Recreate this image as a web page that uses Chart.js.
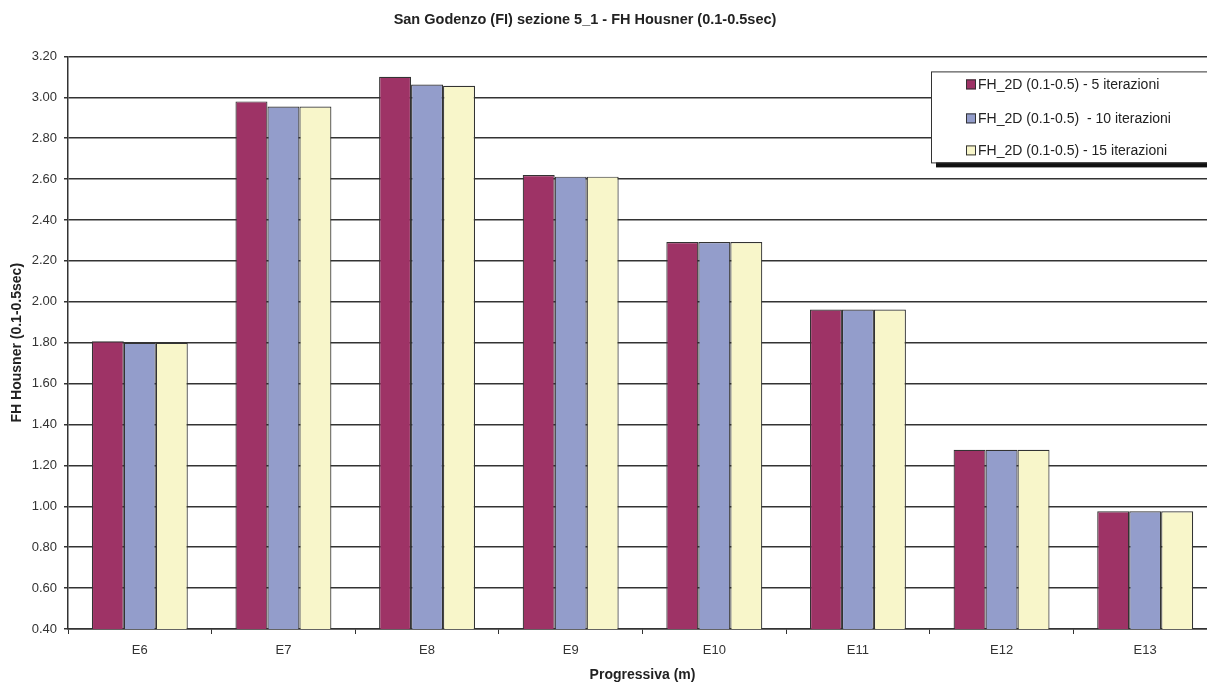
<!DOCTYPE html>
<html>
<head>
<meta charset="utf-8">
<script src="https://cdn.jsdelivr.net/npm/chart.js@4.4.1/dist/chart.umd.min.js"></script>
<style>
  html, body { margin: 0; padding: 0; background: #fff; overflow: hidden; }
  #wrap { width: 1207px; height: 684px; overflow: hidden; }
</style>
</head>
<body>
<div id="wrap"><canvas id="chart" width="1217" height="684"></canvas></div>
<script>
// data
const categories = ['E6', 'E7', 'E8', 'E9', 'E10', 'E11', 'E12', 'E13'];
const iter5 = [1.807, 2.980, 3.100, 2.620, 2.292, 1.962, 1.276, 0.976];
const iter10 = [1.800, 2.955, 3.062, 2.612, 2.292, 1.962, 1.276, 0.976];
const iter15 = [1.800, 2.955, 3.056, 2.612, 2.292, 1.962, 1.276, 0.976];
const seriesLabels = [
    'FH_2D (0.1-0.5) - 5 iterazioni',
    'FH_2D (0.1-0.5)  - 10 iterazioni',
    'FH_2D (0.1-0.5) - 15 iterazioni'
];
const yMin = 0.4, yMax = 3.2, yStep = 0.2;

const colors = ['#9E3366', '#939DCB', '#F8F6CA'];
const FONT = 'Arial, "Liberation Sans", sans-serif';

// the source title sits a bit left of the canvas centre
const titleShift = {
    id: 'titleShift',
    afterLayout(chart) {
        const t = chart.titleBlock;
        if (t) t.right = t.left + 1160;
    }
};

// legend box drawn inside the plot area, Excel style (the source crop cuts it on the right)
const boxLegend = {
    id: 'boxLegend',
    afterDraw(chart) {
        const ctx = chart.ctx;
        const area = chart.chartArea;
        const w = 284, h = 91;
        const x = area.right - 286;
        const y = area.top + 15;
        const rows = [13, 47, 79];
        ctx.save();
        ctx.fillStyle = '#111';
        ctx.fillRect(x + 5, y + 5, w, h);
        ctx.fillStyle = '#fff';
        ctx.fillRect(x, y, w, h);
        ctx.strokeStyle = '#333';
        ctx.lineWidth = 1;
        ctx.strokeRect(x + 0.5, y + 0.5, w, h);
        ctx.font = '14px ' + FONT;
        ctx.textBaseline = 'middle';
        chart.data.datasets.forEach((ds, i) => {
            const ry = y + rows[i];
            ctx.fillStyle = ds.backgroundColor;
            ctx.fillRect(x + 35, ry - 5, 10, 10);
            ctx.strokeStyle = '#333';
            ctx.strokeRect(x + 35.5, ry - 4.5, 9, 9);
            ctx.fillStyle = '#222';
            ctx.fillText(ds.label, x + 47, ry + 1);
        });
        ctx.restore();
    }
};

const datasets = [iter5, iter10, iter15].map((vals, i) => ({
    label: seriesLabels[i],
    data: vals,
    backgroundColor: colors[i],
    borderColor: '#333',
    borderWidth: 1.2,
    borderSkipped: 'bottom',
    categoryPercentage: 0.668,
    barPercentage: 1.0
}));

new Chart(document.getElementById('chart'), {
    type: 'bar',
    data: { labels: categories, datasets: datasets },
    plugins: [titleShift, boxLegend],
    options: {
        responsive: false,
        animation: false,
        layout: { padding: { top: 4, right: 0, left: 5, bottom: 0 } },
        plugins: {
            legend: { display: false },
            tooltip: { enabled: false },
            title: {
                display: true,
                text: 'San Godenzo (FI) sezione 5_1 - FH Housner (0.1-0.5sec)',
                color: '#222',
                font: { family: FONT, size: 14.5, weight: 'bold' },
                padding: { top: 7, bottom: 28 }
            }
        },
        scales: {
            x: {
                afterFit: s => { s.height = 55; },
                grid: {
                    display: true,
                    offset: true,
                    drawOnChartArea: false,
                    color: '#333',
                    tickLength: 5
                },
                border: { color: '#333', width: 1.5 },
                ticks: { color: '#333', font: { family: FONT, size: 13 }, padding: 9 },
                title: {
                    display: true,
                    text: 'Progressiva (m)',
                    color: '#222',
                    font: { family: FONT, size: 14, weight: 'bold' },
                    padding: { top: 0, bottom: 0 }
                }
            },
            y: {
                min: yMin,
                max: yMax,
                afterFit: s => { s.width = 63; },
                grid: { color: '#333', lineWidth: 1.5, tickLength: 4 },
                border: { color: '#333', width: 1.5 },
                ticks: {
                    stepSize: yStep,
                    color: '#333',
                    font: { family: FONT, size: 13 },
                    padding: 7,
                    callback: v => v.toFixed(2)
                },
                title: {
                    display: true,
                    text: 'FH Housner (0.1-0.5sec)',
                    color: '#222',
                    font: { family: FONT, size: 14, weight: 'bold' },
                    padding: { top: 4, bottom: 0 }
                }
            }
        }
    }
});
</script>
</body>
</html>
